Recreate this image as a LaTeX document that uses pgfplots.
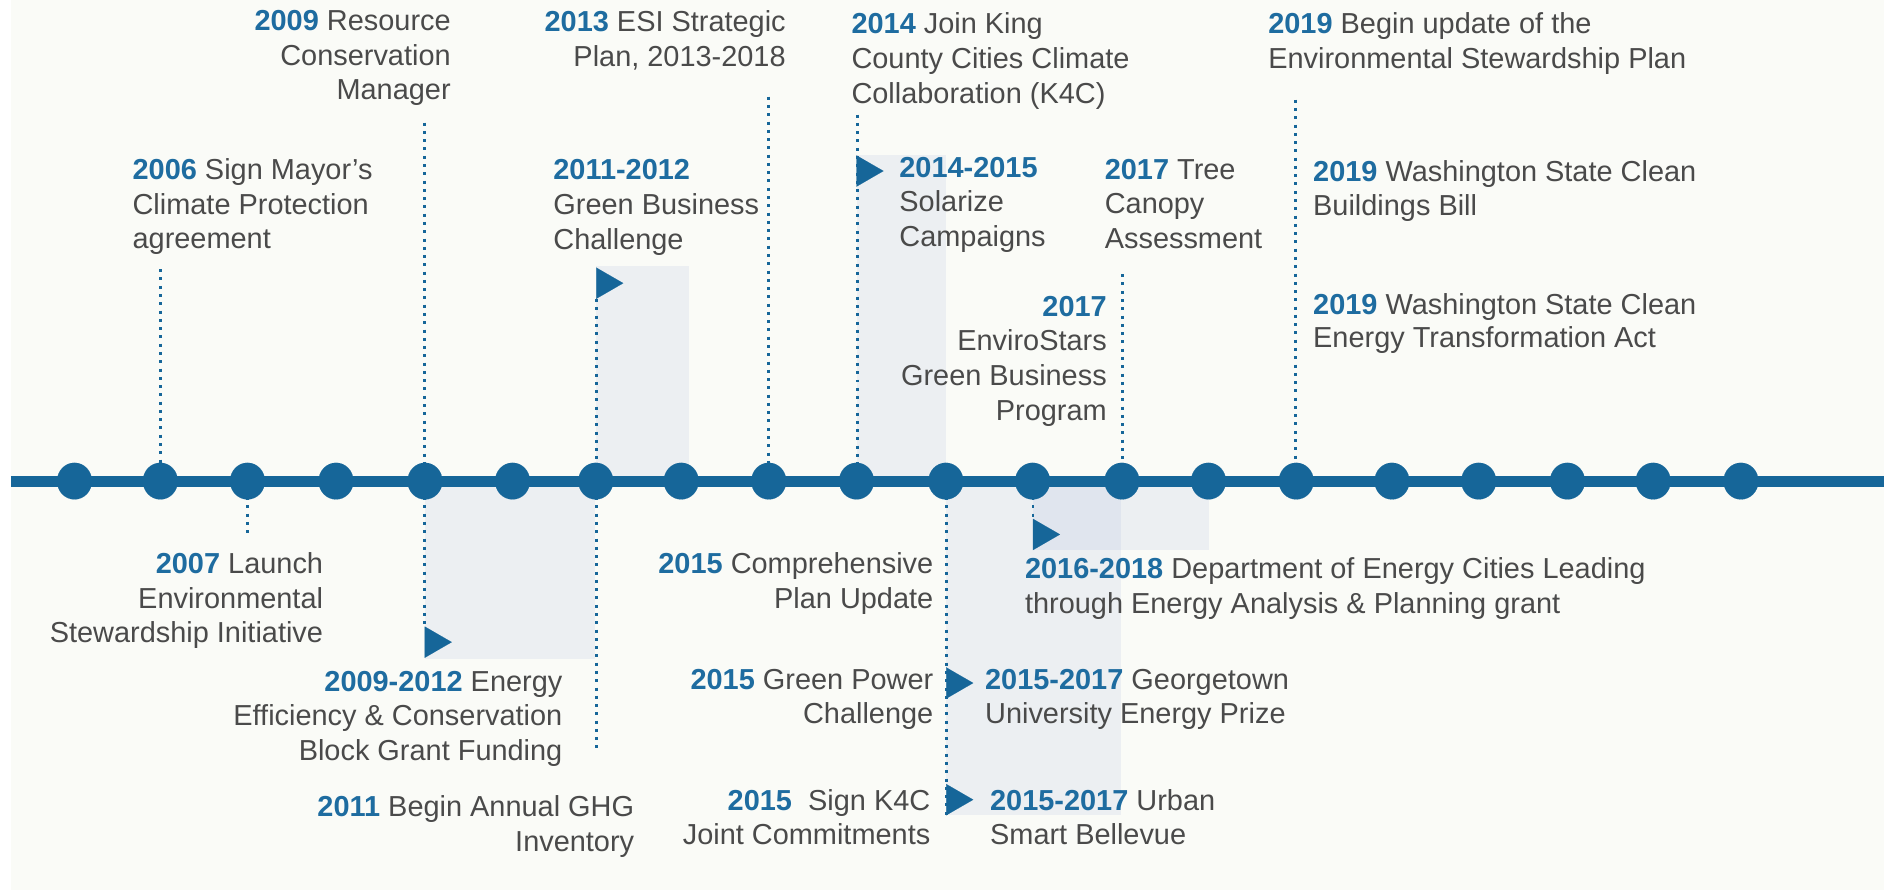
\documentclass[border=0pt]{standalone}
\usepackage{pgfplots}
\pgfplotsset{compat=1.18}
\usepackage{fontspec}
\setmainfont{Liberation Sans}
\definecolor{tblue}{RGB}{22,102,153}
\definecolor{yblue}{RGB}{30,108,160}
\definecolor{tgray}{RGB}{74,74,74}
\definecolor{bgc}{RGB}{250,251,247}
\definecolor{shadeC}{RGB}{170,184,221}
\newcommand\yr[1]{\textcolor{yblue}{\textbf{#1}}}
\tikzset{
  lab/.style={font=\fontsize{29}{35}\selectfont, text=tgray, inner sep=0pt, outer sep=0pt},
  L/.style={lab, anchor=base west}, R/.style={lab, anchor=base east}}
\begin{document}
\begin{tikzpicture}
\begin{axis}[at={(0,0)}, anchor=south west, scale only axis,
  width=1889pt, height=895pt, xmin=0, xmax=1889, ymin=0, ymax=895,
  y dir=reverse, hide axis, clip=false]
% background
\addplot[fill=white, draw=none] coordinates {(0,0) (1889,0) (1889,895) (0,895)} -- cycle;
\addplot[fill=bgc, draw=none] coordinates {(11,0) (1889,0) (1889,893) (11,893)} -- cycle;
% shaded periods
\addplot[fill=shadeC, fill opacity=0.17, draw=none] coordinates {(598,267) (691,267) (691,482) (598,482)} -- cycle;
\addplot[fill=shadeC, fill opacity=0.17, draw=none] coordinates {(426,482) (597,482) (597,661) (426,661)} -- cycle;
\addplot[fill=shadeC, fill opacity=0.17, draw=none] coordinates {(859,155) (949,155) (949,482) (859,482)} -- cycle;
\addplot[fill=shadeC, fill opacity=0.17, draw=none] coordinates {(949,482) (1124,482) (1124,817) (949,817)} -- cycle;
\addplot[fill=shadeC, fill opacity=0.17, draw=none] coordinates {(1036,482) (1213,482) (1213,552) (1036,552)} -- cycle;
% dotted leader lines
\pgfplotsset{dotl/.style={tblue, line width=2.7pt, dash pattern=on 3pt off 5.3pt}}
\addplot[dotl] coordinates {(161,270) (161,482)};
\addplot[dotl] coordinates {(426,123) (426,482)};
\addplot[dotl] coordinates {(598,300) (598,482)};
\addplot[dotl] coordinates {(771,97) (771,482)};
\addplot[dotl] coordinates {(860,115) (860,482)};
\addplot[dotl] coordinates {(1125.5,275) (1125.5,482)};
\addplot[dotl] coordinates {(1299,100) (1299,482)};
\addplot[dotl] coordinates {(248,482) (248,537)};
\addplot[dotl] coordinates {(426,482) (426,628)};
\addplot[dotl] coordinates {(598,482) (598,753)};
\addplot[dotl] coordinates {(949,482) (949,817)};
\addplot[dotl] coordinates {(1036,482) (1036,519)};
% timeline
\addplot[tblue, line width=11pt] coordinates {(11,482.5) (1889,482.5)};
\addplot[only marks, mark=*, mark size=17.5pt, mark options={fill=tblue, draw=tblue, line width=0.1pt, yscale=1.05}]
 coordinates {(74.7,482.5) (160.8,482.5) (248.2,482.5) (337,482.5) (426.2,482.5) (514,482.5)
 (597.5,482.5) (683.2,482.5) (771,482.5) (859,482.5) (948.6,482.5) (1035.6,482.5) (1125.2,482.5)
 (1212,482.5) (1300,482.5) (1396,482.5) (1483,482.5) (1572,482.5) (1658,482.5) (1746,482.5)};
% start-of-period arrows
\addplot[only marks, mark=triangle*, mark size=18pt, mark options={fill=tblue, draw=tblue, line width=0.1pt, rotate=-90}]
 coordinates {(607,284) (868,171.5) (435,644) (958,685) (958,802) (1045,536)};
% labels above
\node[R] at (axis cs:452,31) {\yr{2009} Resource};
\node[R] at (axis cs:452,66) {Conservation};
\node[R] at (axis cs:452,100) {Manager};
\node[L] at (axis cs:133,180) {\yr{2006} Sign Mayor’s};
\node[L] at (axis cs:133,215) {Climate Protection};
\node[L] at (axis cs:133,249) {agreement};
\node[R] at (axis cs:788,32) {\yr{2013} ESI Strategic};
\node[R] at (axis cs:788,67) {Plan, 2013-2018};
\node[L] at (axis cs:555,180) {\yr{2011-2012}};
\node[L] at (axis cs:555,215) {Green Business};
\node[L] at (axis cs:555,250) {Challenge};
\node[L] at (axis cs:854,34) {\yr{2014} Join King};
\node[L] at (axis cs:854,69) {County Cities Climate};
\node[L] at (axis cs:854,104) {Collaboration (K4C)};
\node[L] at (axis cs:902,178) {\yr{2014-2015}};
\node[L] at (axis cs:902,212) {Solarize};
\node[L] at (axis cs:902,247) {Campaigns};
\node[L] at (axis cs:1108,180) {\yr{2017} Tree};
\node[L] at (axis cs:1108,214) {Canopy};
\node[L] at (axis cs:1108,249) {Assessment};
\node[R] at (axis cs:1110,317) {\yr{2017}};
\node[R] at (axis cs:1110,352) {EnviroStars};
\node[R] at (axis cs:1110,387) {Green Business};
\node[R] at (axis cs:1110,421.5) {Program};
\node[L] at (axis cs:1272,34) {\yr{2019} Begin update of the};
\node[L] at (axis cs:1272,69) {Environmental Stewardship Plan};
\node[L] at (axis cs:1317,182.5) {\yr{2019} Washington State Clean};
\node[L] at (axis cs:1317,216.5) {Buildings Bill};
\node[L] at (axis cs:1317,315) {\yr{2019} Washington State Clean};
\node[L] at (axis cs:1317,349) {Energy Transformation Act};
% labels below
\node[R] at (axis cs:324,575) {\yr{2007} Launch};
\node[R] at (axis cs:324,610) {Environmental};
\node[R] at (axis cs:324,644) {Stewardship Initiative};
\node[R] at (axis cs:564,694) {\yr{2009-2012} Energy};
\node[R] at (axis cs:564,728) {Efficiency \& Conservation};
\node[R] at (axis cs:564,763) {Block Grant Funding};
\node[R] at (axis cs:636,819) {\yr{2011} Begin Annual GHG};
\node[R] at (axis cs:636,854) {Inventory};
\node[R] at (axis cs:936,575) {\yr{2015} Comprehensive};
\node[R] at (axis cs:936,610) {Plan Update};
\node[R] at (axis cs:936,691) {\yr{2015} Green Power};
\node[R] at (axis cs:936,726) {Challenge};
\node[R] at (axis cs:933,812.5) {\yr{2015}\ \ Sign K4C};
\node[R] at (axis cs:933,846.5) {Joint Commitments};
\node[L] at (axis cs:988,691) {\yr{2015-2017} Georgetown};
\node[L] at (axis cs:988,726) {University Energy Prize};
\node[L] at (axis cs:993,812.5) {\yr{2015-2017} Urban};
\node[L] at (axis cs:993,847) {Smart Bellevue};
\node[L] at (axis cs:1028,580) {\yr{2016-2018} Department of Energy Cities Leading};
\node[L] at (axis cs:1028,615) {through Energy Analysis \& Planning grant};
\end{axis}
\end{tikzpicture}
\end{document}
